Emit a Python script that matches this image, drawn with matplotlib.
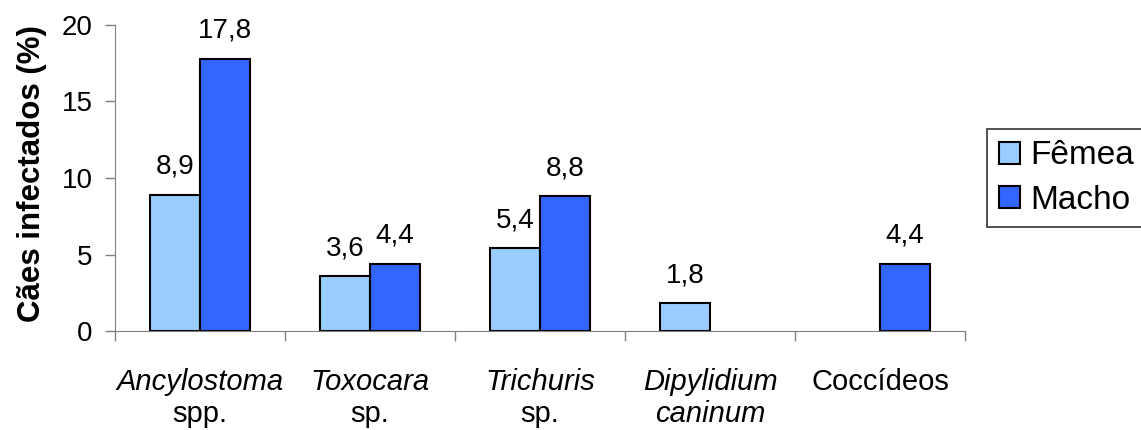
import numpy as np
import matplotlib
matplotlib.use('Agg')
import matplotlib.pyplot as plt
from matplotlib.patches import Patch

plt.rcParams['font.family'] = ['Liberation Sans', 'DejaVu Sans']

# data
cat_line1 = ['Ancylostoma', 'Toxocara', 'Trichuris', 'Dipylidium', 'Coccídeos']
cat_line2 = ['spp.', 'sp.', 'sp.', 'caninum', '']
line1_italic = [True, True, True, True, False]
line2_italic = [False, False, False, True, False]
femea = [8.9, 3.6, 5.4, 1.8, 0.0]
macho = [17.8, 4.4, 8.8, 0.0, 4.4]
femea_lbl = ['8,9', '3,6', '5,4', '1,8', '']
macho_lbl = ['17,8', '4,4', '8,8', '', '4,4']

c_fem = '#99CCFF'
c_mac = '#3366FF'

fig = plt.figure(figsize=(11.41, 4.30), dpi=100)
ax = fig.add_axes([0.1008, 0.2302, 0.7449, 0.7117])

x = np.arange(len(cat_line1))
w = 0.294

# skip empty (zero) bars so no flat outline is drawn
for vals, off, col, lbls in [(femea, -w/2, c_fem, femea_lbl), (macho, w/2, c_mac, macho_lbl)]:
    idx = [i for i in range(len(vals)) if vals[i] > 0]
    ax.bar(x[idx] + off, [vals[i] for i in idx], w, color=col,
           edgecolor='black', linewidth=1.5)
    for i in idx:
        ax.annotate(lbls[i], (x[i] + off, vals[i]), xytext=(0, 15),
                    textcoords='offset points', ha='center', va='baseline', fontsize=20)

ax.set_xlim(-0.5, len(x) - 0.5)
ax.set_ylim(0, 20)
ax.set_yticks([0, 5, 10, 15, 20])
ax.tick_params(axis='y', labelsize=20, length=7, width=1, color='#808080', pad=9)
ax.set_xticks(np.arange(len(x) + 1) - 0.5)
ax.set_xticklabels([])
ax.tick_params(axis='x', length=7, width=1, color='#808080')
for s in ['top', 'right']:
    ax.spines[s].set_visible(False)
for s in ['left', 'bottom']:
    ax.spines[s].set_color('#808080')

trans = ax.get_xaxis_transform()
for i in range(len(x)):
    ax.text(x[i], -0.193, cat_line1[i], transform=trans, ha='center', va='baseline',
            fontsize=21, style='italic' if line1_italic[i] else 'normal')
    if cat_line2[i]:
        ax.text(x[i], -0.298, cat_line2[i], transform=trans, ha='center', va='baseline',
                fontsize=21, style='italic' if line2_italic[i] else 'normal')

ax.set_ylabel('Cães infectados (%)', fontsize=22.5, fontweight='bold')
ax.yaxis.set_label_coords(-0.08, 0.515)

handles = [Patch(facecolor=c_fem, edgecolor='black', linewidth=1.5, label='Fêmea'),
           Patch(facecolor=c_mac, edgecolor='black', linewidth=1.5, label='Macho')]
leg = fig.legend(handles=handles, loc='center left', bbox_to_anchor=(0.865, 0.586),
                 fontsize=24, frameon=True, fancybox=False, edgecolor='black',
                 handlelength=0.65, handleheight=0.65, handletextpad=0.3,
                 borderpad=0.35, labelspacing=0.4, borderaxespad=0)
leg.get_frame().set_linewidth(1.2)

fig.savefig('out.png', dpi=100)
